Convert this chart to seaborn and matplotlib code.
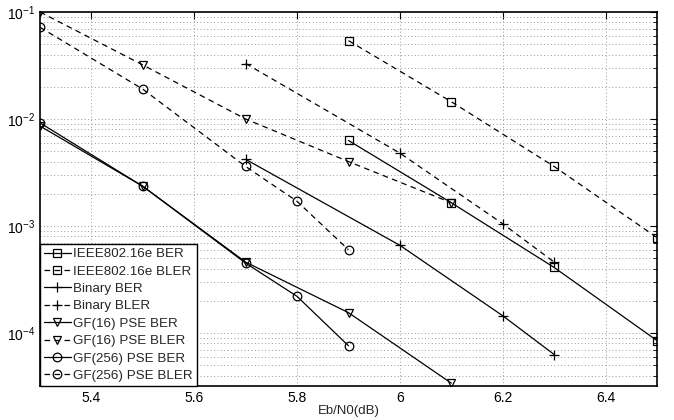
import matplotlib
matplotlib.use("Agg")
import matplotlib.pyplot as plt
import seaborn as sns
import pandas as pd
import numpy as np
from matplotlib.ticker import LogLocator, NullFormatter

# ---- data ----
ieee_x = [5.9, 6.1, 6.3, 6.5]
ieee_ber = [6.3e-3, 1.65e-3, 4.1e-4, 8.5e-5]
ieee_bler = [5.4e-2, 1.45e-2, 3.6e-3, 7.8e-4]

bin_x = [5.7, 6.0, 6.2, 6.3]
bin_ber = [4.2e-3, 6.6e-4, 1.45e-4, 6.3e-5]
bin_bler = [3.3e-2, 4.8e-3, 1.05e-3, 4.6e-4]

gf16_ber_x = [5.3, 5.5, 5.7, 5.9, 6.1]
gf16_ber = [8.6e-3, 2.35e-3, 4.6e-4, 1.55e-4, 3.4e-5]
gf16_bler_x = [5.3, 5.5, 5.7, 5.9, 6.1]
gf16_bler = [1.0e-1, 3.2e-2, 1.0e-2, 4.0e-3, 1.65e-3]

gf256_ber_x = [5.3, 5.5, 5.7, 5.8, 5.9]
gf256_ber = [9.2e-3, 2.35e-3, 4.5e-4, 2.2e-4, 7.6e-5]
gf256_bler_x = [5.3, 5.5, 5.7, 5.8, 5.9]
gf256_bler = [7.2e-2, 1.9e-2, 3.6e-3, 1.7e-3, 6.0e-4]

series = [
    ("IEEE802.16e BER", ieee_x, ieee_ber, "s", "-"),
    ("IEEE802.16e BLER", ieee_x, ieee_bler, "s", "--"),
    ("Binary BER", bin_x, bin_ber, "+", "-"),
    ("Binary BLER", bin_x, bin_bler, "+", "--"),
    ("GF(16) PSE BER", gf16_ber_x, gf16_ber, "v", "-"),
    ("GF(16) PSE BLER", gf16_bler_x, gf16_bler, "v", "--"),
    ("GF(256) PSE BER", gf256_ber_x, gf256_ber, "o", "-"),
    ("GF(256) PSE BLER", gf256_bler_x, gf256_bler, "o", "--"),
]

sns.set_theme(style="white")
plt.rcParams['font.family'] = ['Liberation Sans', 'DejaVu Sans']
plt.rcParams['mathtext.fontset'] = 'custom'
plt.rcParams['mathtext.rm'] = 'Liberation Sans'
plt.rcParams['mathtext.it'] = 'Liberation Sans:italic'

fig = plt.figure(figsize=(6.74, 4.20), dpi=100)
ax = fig.add_axes([40/674, 1-386/420, (657-40)/674, (386-12)/420])

for label, xs, ys, mk, ls in series:
    df = pd.DataFrame({"x": xs, "y": ys})
    sns.lineplot(data=df, x="x", y="y", ax=ax, color="black", linewidth=0.9,
                 linestyle=ls, marker=mk, markersize=6.2 if mk != "+" else 7,
                 markerfacecolor="none", markeredgecolor="black",
                 markeredgewidth=0.9, label=label)
for line in ax.get_lines():
    if line.get_linestyle() == '--':
        line.set_dashes((4.5, 3.5))

ax.set_yscale("log")
ax.set_xlim(5.3, 6.5)
ax.set_ylim(3.2e-5, 1e-1)
ax.set_xticks([5.4, 5.6, 5.8, 6.0, 6.2, 6.4])
ax.set_xticklabels(["5.4", "5.6", "5.8", "6", "6.2", "6.4"])
ax.yaxis.set_major_locator(LogLocator(base=10, numticks=10))
ax.yaxis.set_minor_locator(LogLocator(base=10, subs=np.arange(2, 10), numticks=20))
ax.yaxis.set_minor_formatter(NullFormatter())

ax.grid(which="major", axis="both", linestyle=(0, (1, 2.5)), color="#999999", linewidth=0.7)
ax.grid(which="minor", axis="y", linestyle=(0, (1, 2.5)), color="#999999", linewidth=0.7)

ax.tick_params(which="both", direction="in", top=True, right=True, colors="black",
               labelsize=10)
ax.tick_params(which="major", length=5, width=0.8)
ax.tick_params(which="minor", length=3, width=0.6)
ax.tick_params(axis="x", which="minor", bottom=False, top=False)
for sp in ax.spines.values():
    sp.set_color("black")
    sp.set_linewidth(1.2)

ax.set_xlabel("Eb/N0(dB)", fontsize=9.5, labelpad=0)
ax.set_ylabel("")

leg = ax.legend(loc="lower left", bbox_to_anchor=(0, 0), borderaxespad=0,
                fontsize=9.6, frameon=True, fancybox=False, framealpha=1,
                edgecolor="black", handlelength=2.0, handletextpad=0.2,
                labelspacing=0.38, borderpad=0.3)
leg.get_frame().set_linewidth(1.0)

fig.savefig("out.png", dpi=100)
